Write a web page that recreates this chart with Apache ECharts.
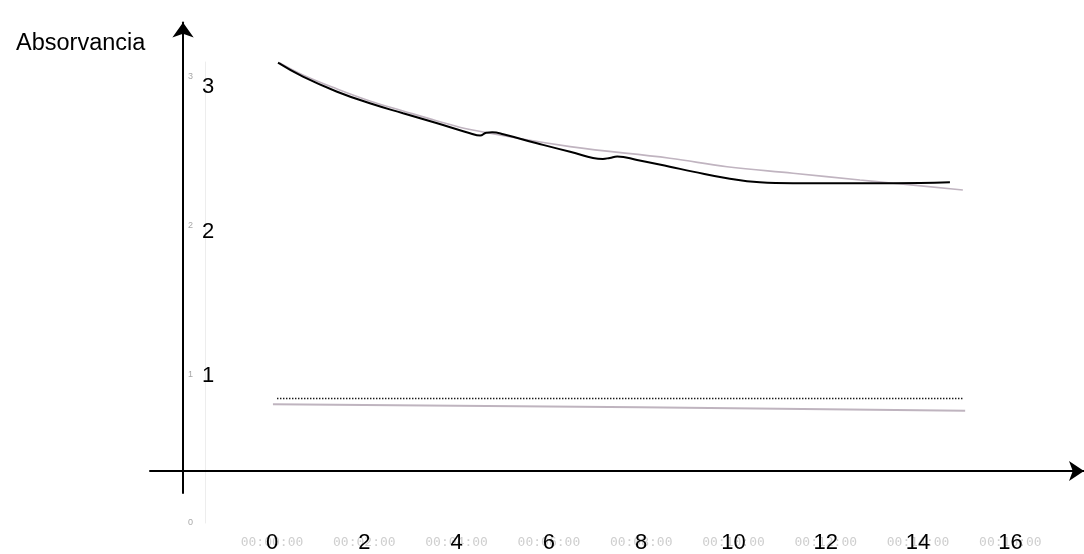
<!DOCTYPE html>
<html>
<head>
<meta charset="utf-8">
<script src="https://cdn.jsdelivr.net/npm/echarts@6/dist/echarts.min.js"></script>
<style>
  html, body { margin: 0; padding: 0; background: #fff; }
  #chart { width: 1084px; height: 554px; }
</style>
</head>
<body>
<div id="chart"></div>
<script>
// ---- data (time in minutes, absorbance) ----
const timeBlack = [0.13, 0.67, 1.41, 2.12, 2.84, 3.58, 4.29, 4.51, 4.64, 4.77, 5.01, 5.74, 6.46, 7.17, 7.32, 7.48, 7.91, 8.62, 9.12, 9.86, 10.57, 11.29, 12.74, 13.46, 14.69];
const absBlack  = [3.168, 3.071, 2.967, 2.887, 2.818, 2.749, 2.680, 2.664, 2.683, 2.686, 2.673, 2.610, 2.552, 2.502, 2.509, 2.518, 2.495, 2.448, 2.414, 2.368, 2.340, 2.334, 2.334, 2.334, 2.340];

const timeFit = [0.17, 0.67, 1.41, 2.12, 2.84, 3.58, 4.29, 6.46, 8.62, 9.86, 11.29, 12.74, 13.46, 14.97];
const absFit  = [3.166, 3.083, 2.986, 2.903, 2.834, 2.765, 2.705, 2.587, 2.507, 2.448, 2.403, 2.356, 2.334, 2.287];

const timeDot = [0.11, 14.97];
const absDot  = [0.844, 0.844];

const timeLow = [0.02, 7.97, 15.02];
const absLow  = [0.804, 0.783, 0.760];

const xTickLabels = [0, 2, 4, 6, 8, 10, 12, 14, 16];
const yTickLabels = [1, 2, 3];
const faintYLabels = [0, 1, 2, 3];
const titleText = 'Absorvancia';

// ---- axis ranges ----
const X_MIN = -2.644, X_MAX = 17.595;      // main x range
const Y_MIN = 0.190,  Y_MAX = 3.446;       // main y range
const X_CROSS = -1.9285;                   // where the vertical axis stands
const Y_CROSS = 0.3426;                    // where the horizontal axis lies

function pairs(xs, ys) { return xs.map((x, i) => [x, ys[i]]); }
function pad2(n) { return (n < 10 ? '0' : '') + n; }

const chart = echarts.init(document.getElementById('chart'), null, { renderer: 'canvas' });

const FONT = 'Liberation Sans, Arial, sans-serif';

chart.setOption({
  animation: false,
  backgroundColor: '#ffffff',
  title: {
    text: titleText,
    left: 11,
    top: 27,
    textStyle: { fontFamily: FONT, fontSize: 23.5, fontWeight: 'normal', color: '#000' }
  },
  grid: [
    { left: 150, right: 0, top: 22.5, bottom: 61, containLabel: false, outerBoundsMode: 'none' },
    { left: 205, right: 0, top: 62, bottom: 31, containLabel: false, outerBoundsMode: 'none', z: 0 }
  ],
  xAxis: [
    {
      type: 'value', gridIndex: 0, min: X_MIN, max: X_MAX, z: 10,
      splitLine: { show: false },
      axisTick: { show: false },
      axisLine: {
        show: true, onZero: true, onZeroAxisIndex: 1,
        symbol: ['none', 'arrow'], symbolSize: [15, 15],
        lineStyle: { color: '#000', width: 2 }
      },
      axisLabel: {
        customValues: xTickLabels, margin: 39,
        fontFamily: FONT, fontSize: 22, color: '#000',
        formatter: v => String(v)
      }
    },
    {
      type: 'value', gridIndex: 0, min: X_MIN - X_CROSS, max: X_MAX - X_CROSS, show: false
    },
    {
      type: 'value', gridIndex: 1, min: -1.452, max: X_MAX, z: 1,
      splitLine: { show: false },
      axisTick: { show: false },
      axisLine: { show: false, onZero: false },
      axisLabel: {
        customValues: xTickLabels, margin: 13,
        fontFamily: 'DejaVu Sans Mono, monospace', fontSize: 13, color: '#cfcfcf',
        formatter: v => '00:' + pad2(v) + ':00'
      }
    }
  ],
  yAxis: [
    {
      type: 'value', gridIndex: 0, min: Y_MIN, max: Y_MAX, z: 10, position: 'left',
      splitLine: { show: false },
      axisTick: { show: false },
      axisLine: {
        show: true, onZero: true, onZeroAxisIndex: 1,
        symbol: ['none', 'arrow'], symbolSize: [16, 15],
        lineStyle: { color: '#000', width: 2 }
      },
      axisLabel: {
        customValues: yTickLabels, inside: true, margin: 52,
        fontFamily: FONT, fontSize: 22, color: '#000',
        formatter: v => String(v)
      }
    },
    {
      type: 'value', gridIndex: 0, min: Y_MIN - Y_CROSS, max: Y_MAX - Y_CROSS, show: false, position: 'right'
    },
    {
      type: 'value', gridIndex: 1, min: 0, max: 3.1, z: 1, position: 'left',
      splitLine: { show: false },
      axisTick: { show: false },
      axisLine: { show: true, onZero: false, lineStyle: { color: '#ededed', width: 1 } },
      axisLabel: {
        customValues: faintYLabels, margin: 12,
        fontFamily: FONT, fontSize: 9, color: '#a8a8a8'
      }
    }
  ],
  series: [
    {
      name: 'ajuste', type: 'line', xAxisIndex: 0, yAxisIndex: 0,
      data: pairs(timeFit, absFit), smooth: 0.4, showSymbol: false, z: 3,
      lineStyle: { color: '#c0b4c0', width: 1.6 }
    },
    {
      name: 'absorbancia', type: 'line', xAxisIndex: 0, yAxisIndex: 0,
      data: pairs(timeBlack, absBlack), smooth: 0.45, showSymbol: false, z: 4,
      lineStyle: { color: '#000', width: 2 }
    },
    {
      name: 'referencia', type: 'line', xAxisIndex: 0, yAxisIndex: 0,
      data: pairs(timeDot, absDot), showSymbol: false, z: 4,
      lineStyle: { color: '#000', width: 1.3, type: [1.3, 1.7] }
    },
    {
      name: 'blanco', type: 'line', xAxisIndex: 0, yAxisIndex: 0,
      data: pairs(timeLow, absLow), showSymbol: false, z: 3,
      lineStyle: { color: '#bfb4bf', width: 2 }
    }
  ]
});
</script>
</body>
</html>
